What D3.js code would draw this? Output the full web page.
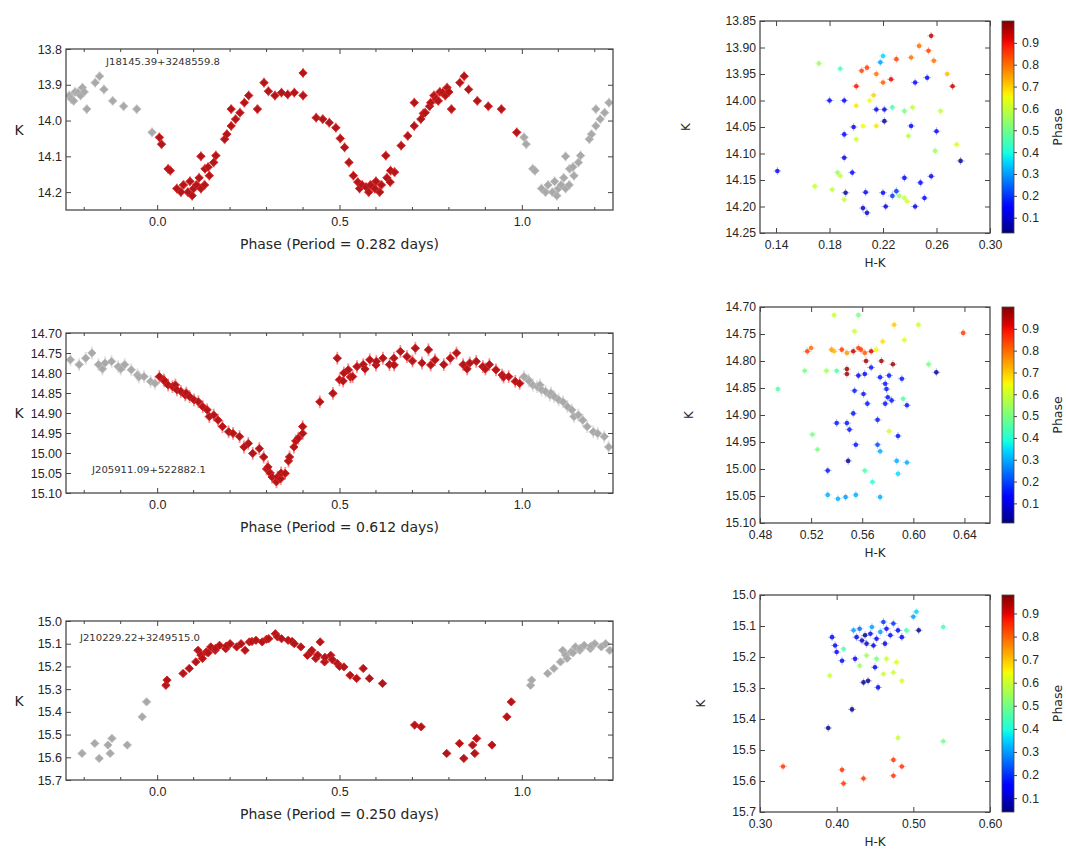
<!DOCTYPE html>
<html>
<head>
<meta charset="utf-8">
<script src="https://cdn.jsdelivr.net/npm/d3@7"></script>
<style>
  body { margin: 0; background: #fff; }
  svg { display: block; font-family: "DejaVu Sans", sans-serif; }
</style>
</head>
<body>
<svg id="fig" width="1066" height="849"></svg>
<script>
// ------------------------------------------------------------
// Data
// light curves: [phase, K]   colour–magnitude: [H-K, K, phase]
// ------------------------------------------------------------
const starNames = ['J18145.39+3248559.8', 'J205911.09+522882.1', 'J210229.22+3249515.0'];
const periods = ['0.282', '0.612', '0.250'];

const lc1 = [[0.006,14.047],[0.012,14.066],[0.03,14.135],[0.036,14.14],[0.054,14.19],[0.065,14.2],[0.072,14.18],
  [0.084,14.2],[0.09,14.17],[0.096,14.21],[0.1,14.19],[0.108,14.18],[0.115,14.16],[0.12,14.19],[0.12,14.10],
  [0.13,14.18],[0.131,14.135],[0.14,14.13],[0.143,14.154],[0.155,14.117],[0.161,14.098],[0.185,14.052],
  [0.191,14.038],[0.203,14.015],[0.203,13.968],[0.215,13.996],[0.227,13.978],[0.239,13.95],[0.251,13.93],
  [0.275,13.968],[0.293,13.894],[0.305,13.918],[0.323,13.93],[0.341,13.922],[0.358,13.927],[0.376,13.922],
  [0.4,13.867],[0.4,13.93],[0.436,13.992],[0.454,13.996],[0.472,14.006],[0.49,14.02],[0.502,14.05],
  [0.514,14.075],[0.526,14.117],[0.538,14.154],[0.55,14.172],[0.555,14.19],[0.562,14.18],[0.573,14.186],
  [0.58,14.2],[0.585,14.18],[0.597,14.19],[0.6,14.17],[0.61,14.2],[0.615,14.18],[0.627,14.098],[0.63,14.16],
  [0.639,14.172],[0.64,14.14],[0.651,14.144],[0.669,14.07],[0.687,14.043],[0.705,13.95],[0.705,14.015],
  [0.723,13.996],[0.73,13.98],[0.735,13.978],[0.747,13.96],[0.75,13.95],[0.759,13.93],[0.765,13.94],
  [0.771,13.945],[0.775,13.92],[0.783,13.922],[0.79,13.93],[0.795,13.908],[0.8,13.92],[0.807,13.968],
  [0.83,13.894],[0.842,13.876],[0.854,13.913],[0.878,13.945],[0.908,13.96],[0.944,13.968],[0.986,14.033]];

const lc2 = [[0.006,14.809],[0.018,14.817],[0.02,14.82],[0.03,14.83],[0.042,14.834],[0.05,14.83],[0.054,14.842],
  [0.065,14.846],[0.077,14.855],[0.08,14.85],[0.089,14.859],[0.101,14.867],[0.113,14.872],[0.125,14.884],
  [0.137,14.892],[0.143,14.909],[0.155,14.905],[0.167,14.918],[0.179,14.934],[0.196,14.947],[0.208,14.951],
  [0.226,14.959],[0.238,14.985],[0.25,14.976],[0.262,15.001],[0.28,14.989],[0.292,15.01],[0.3,15.04],
  [0.304,15.035],[0.31,15.05],[0.315,15.06],[0.327,15.072],[0.33,15.06],[0.339,15.064],[0.34,15.05],
  [0.351,15.051],[0.36,15.02],[0.363,15.01],[0.375,14.985],[0.38,14.97],[0.387,14.963],[0.399,14.951],
  [0.399,14.934],[0.446,14.872],[0.482,14.851],[0.494,14.763],[0.5,14.817],[0.51,14.82],[0.512,14.8],
  [0.524,14.792],[0.53,14.81],[0.536,14.809],[0.548,14.784],[0.565,14.779],[0.57,14.79],[0.583,14.767],
  [0.6,14.78],[0.601,14.771],[0.619,14.763],[0.637,14.779],[0.649,14.763],[0.65,14.78],[0.667,14.746],
  [0.685,14.759],[0.7,14.77],[0.708,14.738],[0.726,14.775],[0.744,14.742],[0.75,14.78],[0.762,14.767],
  [0.786,14.779],[0.804,14.763],[0.821,14.75],[0.839,14.779],[0.85,14.79],[0.857,14.775],[0.875,14.771],
  [0.893,14.784],[0.9,14.79],[0.911,14.779],[0.929,14.792],[0.946,14.805],[0.95,14.81],[0.964,14.809],
  [0.982,14.821],[0.994,14.826]];

const lc3 = [[0.024,15.283],[0.027,15.26],[0.071,15.231],[0.088,15.209],[0.106,15.18],[0.112,15.129],[0.12,15.15],
  [0.124,15.165],[0.135,15.136],[0.14,15.14],[0.147,15.114],[0.159,15.129],[0.16,15.12],[0.171,15.107],
  [0.188,15.122],[0.19,15.11],[0.2,15.1],[0.218,15.114],[0.23,15.1],[0.241,15.129],[0.253,15.092],[0.26,15.09],
  [0.271,15.085],[0.288,15.092],[0.3,15.08],[0.306,15.078],[0.324,15.056],[0.33,15.07],[0.341,15.078],
  [0.359,15.085],[0.37,15.09],[0.376,15.1],[0.394,15.114],[0.412,15.151],[0.42,15.14],[0.424,15.129],
  [0.435,15.165],[0.44,15.15],[0.447,15.092],[0.459,15.18],[0.46,15.16],[0.476,15.151],[0.48,15.17],
  [0.494,15.187],[0.5,15.2],[0.512,15.202],[0.529,15.239],[0.547,15.253],[0.565,15.209],[0.582,15.253],
  [0.618,15.275],[0.706,15.458],[0.724,15.466],[0.794,15.583],[0.829,15.539],[0.841,15.605],[0.865,15.546],
  [0.871,15.583],[0.876,15.517],[0.918,15.546],[0.959,15.422],[0.971,15.356]];

const cmd1 = [[0.141,14.133,0.15],[0.172,13.93,0.55],[0.180,14.0,0.15],[0.191,14.0,0.12],[0.188,13.94,0.45],
  [0.191,14.064,0.15],[0.198,14.05,0.12],[0.191,14.108,0.1],[0.197,14.136,0.15],[0.192,14.174,0.05],
  [0.205,14.203,0.1],[0.208,14.212,0.1],[0.207,14.173,0.15],[0.22,14.174,0.15],[0.222,14.2,0.1],[0.227,14.18,0.2],
  [0.23,14.171,0.2],[0.236,14.146,0.15],[0.244,14.2,0.12],[0.248,14.155,0.15],[0.251,14.184,0.15],
  [0.256,14.143,0.12],[0.278,14.114,0.05],[0.275,14.083,0.62],[0.26,14.058,0.15],[0.241,14.048,0.15],
  [0.221,14.039,0.05],[0.215,14.017,0.12],[0.221,14.017,0.12],[0.2,13.973,0.9],[0.204,13.944,0.85],
  [0.208,13.938,0.85],[0.215,13.95,0.8],[0.22,13.966,0.82],[0.226,13.96,0.92],[0.23,13.922,0.85],
  [0.241,13.919,0.8],[0.244,13.966,0.15],[0.253,13.957,0.15],[0.247,13.897,0.8],[0.256,13.878,0.95],
  [0.254,13.906,0.85],[0.258,13.925,0.8],[0.268,13.95,0.72],[0.272,13.973,0.95],[0.22,13.916,0.35],
  [0.218,13.928,0.3],[0.213,13.99,0.7],[0.21,14.0,0.65],[0.2,14.01,0.68],[0.227,14.013,0.45],[0.236,14.02,0.5],
  [0.242,14.013,0.6],[0.263,14.02,0.6],[0.205,14.048,0.65],[0.215,14.048,0.68],[0.2,14.073,0.62],
  [0.239,14.067,0.58],[0.259,14.095,0.55],[0.186,14.136,0.55],[0.188,14.142,0.6],[0.169,14.162,0.6],
  [0.182,14.168,0.6],[0.191,14.187,0.6],[0.236,14.184,0.6],[0.238,14.19,0.62],[0.232,14.18,0.55]];

const cmd2 = [[0.520,14.776,0.8],[0.517,14.782,0.85],[0.515,14.818,0.5],[0.494,14.852,0.45],[0.536,14.779,0.75],
  [0.538,14.782,0.72],[0.544,14.779,0.85],[0.548,14.785,0.75],[0.553,14.782,0.95],[0.557,14.776,0.85],
  [0.559,14.779,0.85],[0.562,14.785,0.82],[0.567,14.782,0.92],[0.571,14.779,0.65],[0.576,14.764,0.68],
  [0.585,14.733,0.7],[0.604,14.733,0.6],[0.554,14.745,0.6],[0.538,14.715,0.6],[0.593,14.761,0.62],
  [0.639,14.748,0.85],[0.612,14.806,0.5],[0.618,14.821,0.03],[0.532,14.818,0.55],[0.540,14.818,0.45],
  [0.548,14.815,0.98],[0.548,14.824,0.98],[0.557,14.827,0.12],[0.562,14.824,0.12],[0.567,14.812,0.15],
  [0.563,14.8,0.98],[0.575,14.8,0.98],[0.584,14.806,0.98],[0.574,14.83,0.15],[0.581,14.827,0.15],
  [0.591,14.833,0.15],[0.578,14.842,0.15],[0.579,14.852,0.15],[0.554,14.855,0.15],[0.561,14.861,0.15],
  [0.580,14.867,0.15],[0.583,14.873,0.15],[0.564,14.879,0.15],[0.578,14.879,0.15],[0.595,14.882,0.15],
  [0.592,14.87,0.45],[0.553,14.897,0.15],[0.540,14.915,0.15],[0.548,14.915,0.15],[0.550,14.927,0.15],
  [0.572,14.909,0.15],[0.588,14.939,0.15],[0.581,14.93,0.6],[0.555,14.955,0.15],[0.572,14.955,0.2],
  [0.574,14.967,0.3],[0.521,14.936,0.5],[0.525,14.964,0.5],[0.549,14.985,0.03],[0.533,15.003,0.15],
  [0.562,15.003,0.45],[0.587,14.985,0.3],[0.595,14.988,0.3],[0.588,15.009,0.35],[0.568,15.024,0.4],
  [0.533,15.048,0.3],[0.541,15.055,0.3],[0.547,15.052,0.28],[0.555,15.048,0.3],[0.574,15.052,0.3],
  [0.557,14.715,0.5]];

const cmd3 = [[0.394,15.136,0.15],[0.398,15.163,0.15],[0.400,15.184,0.15],[0.407,15.212,0.15],[0.409,15.174,0.45],
  [0.391,15.26,0.6],[0.422,15.114,0.3],[0.426,15.136,0.15],[0.424,15.206,0.15],[0.430,15.109,0.25],
  [0.433,15.147,0.1],[0.437,15.13,0.05],[0.439,15.157,0.1],[0.444,15.125,0.15],[0.446,15.103,0.3],
  [0.448,15.163,0.12],[0.452,15.141,0.15],[0.457,15.119,0.3],[0.461,15.087,0.2],[0.463,15.157,0.12],
  [0.465,15.109,0.15],[0.470,15.13,0.15],[0.474,15.092,0.2],[0.480,15.114,0.15],[0.485,15.136,0.15],
  [0.491,15.114,0.45],[0.500,15.07,0.3],[0.507,15.114,0.05],[0.504,15.054,0.35],[0.539,15.103,0.45],
  [0.439,15.195,0.55],[0.452,15.206,0.5],[0.465,15.206,0.6],[0.478,15.217,0.62],[0.430,15.228,0.55],
  [0.450,15.233,0.12],[0.461,15.255,0.6],[0.474,15.25,0.6],[0.485,15.277,0.62],[0.435,15.282,0.05],
  [0.441,15.277,0.05],[0.454,15.298,0.15],[0.420,15.369,0.05],[0.389,15.429,0.05],[0.480,15.461,0.6],
  [0.539,15.472,0.5],[0.330,15.553,0.85],[0.407,15.564,0.85],[0.409,15.608,0.85],[0.435,15.592,0.85],
  [0.474,15.532,0.85],[0.485,15.553,0.85],[0.474,15.583,0.85]];

// tick values
const lcXTicks = [0, 0.5, 1.0];
const lc1YTicks = [13.8, 13.9, 14.0, 14.1, 14.2];
const lc2YTicks = [14.70, 14.75, 14.80, 14.85, 14.90, 14.95, 15.00, 15.05, 15.10];
const lc3YTicks = [15.0, 15.1, 15.2, 15.3, 15.4, 15.5, 15.6, 15.7];
const cmd1XTicks = [0.14, 0.18, 0.22, 0.26, 0.30];
const cmd2XTicks = [0.48, 0.52, 0.56, 0.60, 0.64];
const cmd3XTicks = [0.30, 0.40, 0.50, 0.60];
const cmd1YTicks = [13.85, 13.90, 13.95, 14.00, 14.05, 14.10, 14.15, 14.20, 14.25];
const cmd2YTicks = [14.70, 14.75, 14.80, 14.85, 14.90, 14.95, 15.00, 15.05, 15.10];
const cmd3YTicks = [15.0, 15.1, 15.2, 15.3, 15.4, 15.5, 15.6, 15.7];
const cbarTicks = [0.1, 0.2, 0.3, 0.4, 0.5, 0.6, 0.7, 0.8, 0.9];
const cbarRanges = [[0.03, 1.0], [0.01, 1.0], [0.04, 0.98]];

// ------------------------------------------------------------
const svg = d3.select('#fig');
const INK = '#262626';

// matplotlib "jet"
const jetR = d3.scaleLinear().domain([0, 0.35, 0.66, 0.89, 1]).range([0, 0, 1, 1, 0.5]).clamp(true);
const jetG = d3.scaleLinear().domain([0, 0.125, 0.375, 0.64, 0.91, 1]).range([0, 0, 1, 1, 0, 0]).clamp(true);
const jetB = d3.scaleLinear().domain([0, 0.11, 0.34, 0.65, 1]).range([0.5, 1, 1, 0, 0]).clamp(true);
const jet = t => d3.rgb(jetR(t) * 255, jetG(t) * 255, jetB(t) * 255).formatHex();

function styleAxis(g, fs) {
  g.select('.domain').remove();
  g.selectAll('line').attr('stroke', '#444').attr('stroke-width', 1);
  g.selectAll('text').attr('fill', INK).style('font-size', fs + 'px');
}

// four-sided frame with inward ticks
function drawFrame(g, x, y, box, xTicks, yTicks, xFmt, yFmt, fs) {
  g.append('g').attr('transform', `translate(0,${box.y1})`)
    .call(d3.axisBottom(x).tickValues(xTicks).tickFormat(xFmt).tickSizeInner(-5).tickSizeOuter(0).tickPadding(7))
    .call(a => styleAxis(a, fs));
  g.append('g').attr('transform', `translate(0,${box.y0})`)
    .call(d3.axisTop(x).tickValues(xTicks).tickFormat('').tickSizeInner(-5).tickSizeOuter(0))
    .call(a => styleAxis(a, fs));
  g.append('g').attr('transform', `translate(${box.x0},0)`)
    .call(d3.axisLeft(y).tickValues(yTicks).tickFormat(yFmt).tickSizeInner(-5).tickSizeOuter(0).tickPadding(4))
    .call(a => styleAxis(a, fs));
  g.append('g').attr('transform', `translate(${box.x1},0)`)
    .call(d3.axisRight(y).tickValues(yTicks).tickFormat('').tickSizeInner(-5).tickSizeOuter(0))
    .call(a => styleAxis(a, fs));
  g.append('rect')
    .attr('x', box.x0).attr('y', box.y0)
    .attr('width', box.x1 - box.x0).attr('height', box.y1 - box.y0)
    .attr('fill', 'none').attr('stroke', '#4a4a4a').attr('stroke-width', 1.3);
}

// ---------------- light curves ----------------
const lcPanels = [
  { data: lc1, err: 0.014, yDom: [13.8, 14.25], yTicks: lc1YTicks, yFmt: d3.format('.1f'),
    box: { x0: 66, x1: 613, y0: 49, y1: 210 }, name: starNames[0], nameX: 106, nameY: 65, nameW: 114, period: periods[0] },
  { data: lc2, err: 0.016, yDom: [14.70, 15.10], yTicks: lc2YTicks, yFmt: d3.format('.2f'),
    box: { x0: 66, x1: 613, y0: 333, y1: 493 }, name: starNames[1], nameX: 92, nameY: 473, nameW: 114, period: periods[1] },
  { data: lc3, err: 0.014, yDom: [15.0, 15.7], yTicks: lc3YTicks, yFmt: d3.format('.1f'),
    box: { x0: 66, x1: 613, y0: 621, y1: 780 }, name: starNames[2], nameX: 80, nameY: 641, nameW: 120, period: periods[2] }
];

const diamond = d3.symbol().type(d3.symbolSquare).size(34);

lcPanels.forEach((p, i) => {
  const b = p.box;
  const g = svg.append('g');
  const x = d3.scaleLinear().domain([-0.25, 1.25]).range([b.x0, b.x1]);
  const y = d3.scaleLinear().domain(p.yDom).range([b.y0, b.y1]);

  svg.append('clipPath').attr('id', 'clip-lc' + i)
    .append('rect').attr('x', b.x0).attr('y', b.y0).attr('width', b.x1 - b.x0).attr('height', b.y1 - b.y0);
  const plot = g.append('g').attr('clip-path', `url(#clip-lc${i})`);

  // folded copies outside [0,1]
  const grey = [];
  p.data.forEach(d => {
    if (d[0] > 0.75) grey.push([d[0] - 1, d[1]]);
    if (d[0] < 0.25) grey.push([d[0] + 1, d[1]]);
  });

  const layer = (pts, ecol, fill, stroke) => {
    const e = plot.append('g').attr('stroke', ecol).attr('stroke-width', 1.8).attr('opacity', 0.55);
    e.selectAll('line.v').data(pts).join('line').attr('class', 'v')
      .attr('x1', d => x(d[0])).attr('x2', d => x(d[0]))
      .attr('y1', d => y(d[1] - p.err)).attr('y2', d => y(d[1] + p.err));
    e.selectAll('line.h').data(pts).join('line').attr('class', 'h')
      .attr('x1', d => x(d[0]) - 4).attr('x2', d => x(d[0]) + 4)
      .attr('y1', d => y(d[1])).attr('y2', d => y(d[1]));
    plot.append('g').selectAll('path').data(pts).join('path')
      .attr('d', diamond)
      .attr('transform', d => `translate(${x(d[0])},${y(d[1])}) rotate(45)`)
      .attr('fill', fill).attr('stroke', stroke).attr('stroke-width', 0.9);
  };
  layer(grey, '#c8c8c8', '#a9a9a9', '#bcbcbc');
  layer(p.data, '#f03a3a', '#b0161a', '#d92424');

  drawFrame(g, x, y, b, lcXTicks, p.yTicks, d3.format('.1f'), p.yFmt, 12.5);

  // minor x ticks
  const minor = d3.range(-0.2, 1.25, 0.1).filter(v => Math.abs(v * 2 - Math.round(v * 2)) > 1e-6);
  g.append('g').selectAll('line').data(minor).join('line')
    .attr('x1', d => x(d)).attr('x2', d => x(d)).attr('y1', b.y1).attr('y2', b.y1 - 3)
    .attr('stroke', '#444');
  g.append('g').selectAll('line').data(minor).join('line')
    .attr('x1', d => x(d)).attr('x2', d => x(d)).attr('y1', b.y0).attr('y2', b.y0 + 3)
    .attr('stroke', '#444');

  g.append('text').attr('x', p.nameX).attr('y', p.nameY)
    .attr('textLength', p.nameW).attr('lengthAdjust', 'spacingAndGlyphs')
    .style('font-size', '9px').attr('fill', '#333').text(p.name);

  g.append('text').attr('x', (b.x0 + b.x1) / 2).attr('y', b.y1 + 39)
    .attr('text-anchor', 'middle').style('font-size', '14px').attr('fill', INK)
    .text(`Phase (Period = ${p.period} days)`);

  g.append('text').attr('x', 19).attr('y', (b.y0 + b.y1) / 2 + 5)
    .attr('text-anchor', 'middle').style('font-size', '14px').attr('fill', INK).text('K');
});

// ---------------- colour–magnitude panels ----------------
const cmdPanels = [
  { data: cmd1, xDom: [0.128, 0.30], yDom: [13.85, 14.25], xTicks: cmd1XTicks, yTicks: cmd1YTicks,
    xFmt: d3.format('.2f'), yFmt: d3.format('.2f'), box: { x0: 760, x1: 990, y0: 21, y1: 233 }, kx: 690 },
  { data: cmd2, xDom: [0.48, 0.66], yDom: [14.70, 15.10], xTicks: cmd2XTicks, yTicks: cmd2YTicks,
    xFmt: d3.format('.2f'), yFmt: d3.format('.2f'), box: { x0: 760, x1: 990, y0: 307, y1: 523 }, kx: 693 },
  { data: cmd3, xDom: [0.30, 0.60], yDom: [15.0, 15.7], xTicks: cmd3XTicks, yTicks: cmd3YTicks,
    xFmt: d3.format('.2f'), yFmt: d3.format('.1f'), box: { x0: 760, x1: 990, y0: 595, y1: 812 }, kx: 705 }
];

const defs = svg.append('defs');
const grad = defs.append('linearGradient').attr('id', 'jetgrad')
  .attr('x1', 0).attr('y1', 1).attr('x2', 0).attr('y2', 0);
grad.selectAll('stop').data(d3.range(0, 1.0001, 0.02)).join('stop')
  .attr('offset', d => d).attr('stop-color', d => jet(d));

cmdPanels.forEach((p, i) => {
  const b = p.box;
  const g = svg.append('g');
  const x = d3.scaleLinear().domain(p.xDom).range([b.x0, b.x1]);
  const y = d3.scaleLinear().domain(p.yDom).range([b.y0, b.y1]);
  const norm = d3.scaleLinear().domain(cbarRanges[i]).range([0, 1]).clamp(true);
  const col = ph => jet(norm(ph));

  svg.append('clipPath').attr('id', 'clip-cmd' + i)
    .append('rect').attr('x', b.x0).attr('y', b.y0).attr('width', b.x1 - b.x0).attr('height', b.y1 - b.y0);
  const plot = g.append('g').attr('clip-path', `url(#clip-cmd${i})`);

  const eb = plot.append('g').attr('stroke-width', 1).attr('opacity', 0.3);
  eb.selectAll('line.v').data(p.data).join('line').attr('class', 'v')
    .attr('stroke', d => col(d[2]))
    .attr('x1', d => x(d[0])).attr('x2', d => x(d[0]))
    .attr('y1', d => y(d[1]) - 4).attr('y2', d => y(d[1]) + 4);
  eb.selectAll('line.h').data(p.data).join('line').attr('class', 'h')
    .attr('stroke', d => col(d[2]))
    .attr('x1', d => x(d[0]) - 4).attr('x2', d => x(d[0]) + 4)
    .attr('y1', d => y(d[1])).attr('y2', d => y(d[1]));
  plot.append('g').selectAll('circle').data(p.data).join('circle')
    .attr('cx', d => x(d[0])).attr('cy', d => y(d[1])).attr('r', 2.3)
    .attr('fill', d => col(d[2])).attr('fill-opacity', 0.8);

  drawFrame(g, x, y, b, p.xTicks, p.yTicks, p.xFmt, p.yFmt, 12.2);

  g.append('text').attr('x', (b.x0 + b.x1) / 2).attr('y', b.y1 + 34)
    .attr('text-anchor', 'middle').style('font-size', '12px').attr('fill', INK).text('H-K');
  g.append('text').attr('transform', `translate(${p.kx},${(b.y0 + b.y1) / 2}) rotate(-90)`)
    .attr('text-anchor', 'middle').style('font-size', '12px').attr('fill', INK).text('K');

  // colour bar
  const cb = { x0: 1002, x1: 1014 };
  const cy = d3.scaleLinear().domain(cbarRanges[i]).range([b.y1, b.y0]);
  g.append('rect').attr('x', cb.x0).attr('y', b.y0).attr('width', cb.x1 - cb.x0).attr('height', b.y1 - b.y0)
    .attr('fill', 'url(#jetgrad)').attr('stroke', '#444').attr('stroke-width', 0.8);
  g.append('g').attr('transform', `translate(${cb.x1},0)`)
    .call(d3.axisRight(cy).tickValues(cbarTicks).tickFormat(d3.format('.1f')).tickSizeInner(3).tickSizeOuter(0).tickPadding(5))
    .call(a => styleAxis(a, 12.2));
  g.append('text').attr('transform', `translate(1062,${(b.y0 + b.y1) / 2}) rotate(-90)`)
    .attr('text-anchor', 'middle').style('font-size', '12.5px').attr('fill', INK).text('Phase');
});
</script>
</body>
</html>
